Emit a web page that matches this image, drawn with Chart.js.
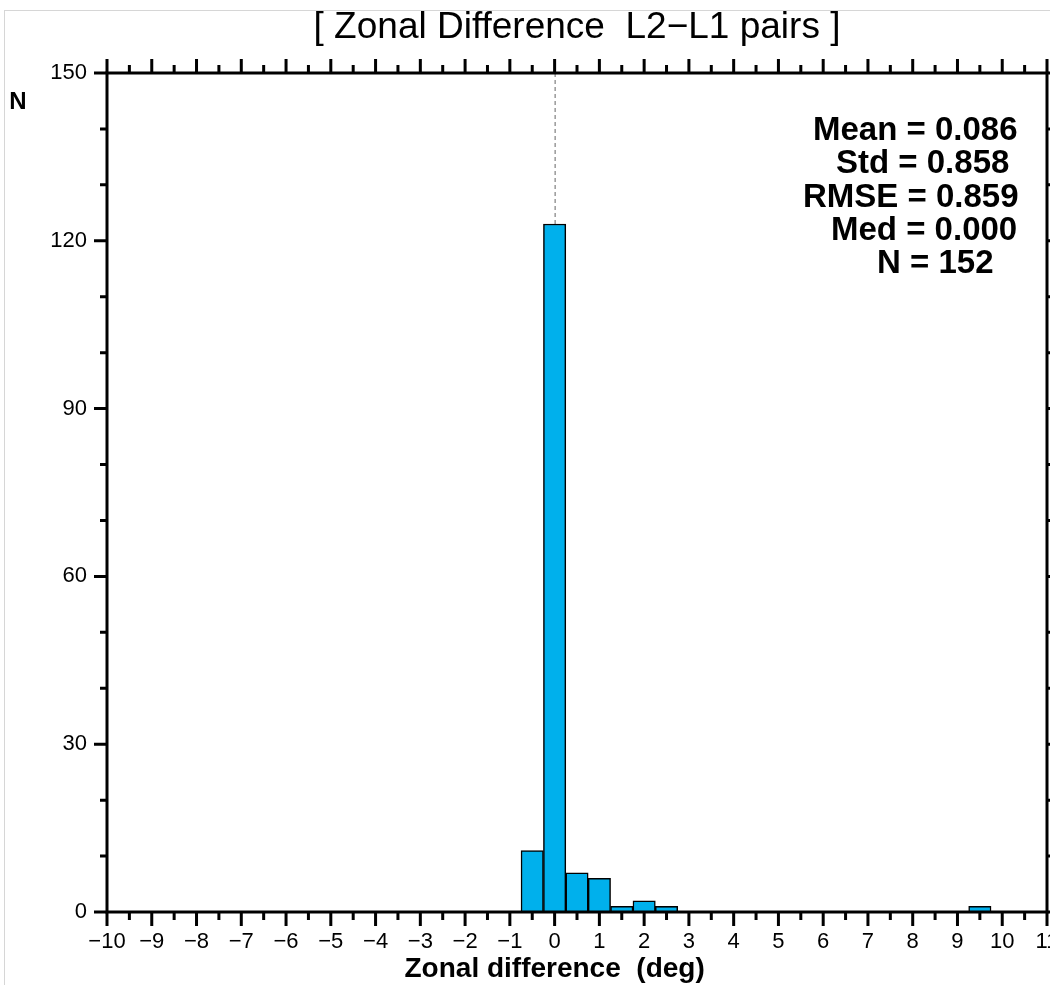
<!DOCTYPE html>
<html>
<head>
<meta charset="utf-8">
<script src="https://cdn.jsdelivr.net/npm/chart.js@4"></script>
<style>
  body { margin: 0; background: #fff; }
  #wrap { width: 1050px; height: 985px; position: relative; }
</style>
</head>
<body>
<div id="wrap"><canvas id="histChart"></canvas></div>
<script>
// histogram bins (centre of each 0.5 deg bin) and counts
const binCenters = [-0.5, 0, 0.5, 1, 1.5, 2, 2.5, 9.5];
const counts = [11, 123, 7, 6, 1, 2, 1, 1];
const xTicks = [-10, -9, -8, -7, -6, -5, -4, -3, -2, -1, 0, 1, 2, 3, 4, 5, 6, 7, 8, 9, 10, 11];
const yTicks = [0, 30, 60, 90, 120, 150];
const statLines = ["Mean = 0.086", "Std = 0.858", "RMSE = 0.859", "Med = 0.000", "N = 152"];

const FONT = "'Liberation Sans', Arial, Helvetica, sans-serif";

const frame = {
  id: "frame",
  beforeDatasetsDraw(chart) {
    const { ctx, chartArea: a, scales: { x } } = chart;
    const x0 = x.getPixelForValue(0);
    ctx.save();
    ctx.strokeStyle = "#666";
    ctx.lineWidth = 1;
    ctx.setLineDash([4, 3]);
    ctx.beginPath();
    ctx.moveTo(x0 + 0.5, a.top);
    ctx.lineTo(x0 + 0.5, a.bottom);
    ctx.stroke();
    ctx.restore();
  },
  afterDraw(chart) {
    const { ctx, chartArea: a, scales: { x, y } } = chart;
    ctx.save();

    // faint page border
    ctx.strokeStyle = "#d6d6d6";
    ctx.lineWidth = 1;
    ctx.strokeRect(4.5, 10.5, 1100, 1100);

    // plot frame
    ctx.strokeStyle = "#000";
    ctx.lineWidth = 3;
    ctx.strokeRect(a.left, a.top, a.right - a.left, a.bottom - a.top);

    // tick marks, outward on all four sides
    ctx.beginPath();
    for (let v = -10; v <= 11; v += 0.5) {
      const px = x.getPixelForValue(v);
      const len = Number.isInteger(v) ? 14 : 8;
      ctx.moveTo(px, a.bottom); ctx.lineTo(px, a.bottom + len);
      ctx.moveTo(px, a.top); ctx.lineTo(px, a.top - len);
    }
    for (let v = 0; v <= 150; v += 10) {
      const py = y.getPixelForValue(v);
      const len = v % 30 === 0 ? 13 : 7;
      ctx.moveTo(a.left, py); ctx.lineTo(a.left - len, py);
      ctx.moveTo(a.right, py); ctx.lineTo(a.right + len, py);
    }
    ctx.stroke();

    // title
    ctx.fillStyle = "#000";
    ctx.textAlign = "center";
    ctx.textBaseline = "middle";
    ctx.font = "37px " + FONT;
    ctx.fillText("[ Zonal Difference  L2\u2212L1 pairs ]", (a.left + a.right) / 2, 28);

    // axis titles
    ctx.font = "bold 28px " + FONT;
    ctx.fillText("Zonal difference  (deg)", x.getPixelForValue(0), 969);
    ctx.font = "bold 24px " + FONT;
    ctx.fillText("N", 18, 102);

    // statistics block
    ctx.font = "bold 33px " + FONT;
    ctx.textAlign = "left";
    const lefts = [813, 836, 803, 831, 877];
    statLines.forEach((s, i) => ctx.fillText(s, lefts[i], 131 + i * 33.3));

    ctx.restore();
  }
};

new Chart(document.getElementById("histChart"), {
  type: "bar",
  data: {
    datasets: [{
      data: binCenters.map((c, i) => ({ x: c, y: counts[i] })),
      backgroundColor: "#00b0ec",
      borderColor: "#000",
      borderWidth: 1.5,
      barPercentage: 1,
      categoryPercentage: 1
    }]
  },
  options: {
    responsive: true,
    maintainAspectRatio: false,
    animation: false,
    layout: { padding: { top: 73, right: 3, left: 0, bottom: 0 } },
    plugins: { legend: { display: false }, tooltip: { enabled: false } },
    scales: {
      x: {
        type: "linear",
        min: -10,
        max: 11,
        offset: false,
        grid: { display: false, drawTicks: false, offset: false },
        border: { display: false },
        afterBuildTicks: s => { s.ticks = xTicks.map(v => ({ value: v })); },
        ticks: {
          autoSkip: false,
          maxRotation: 0,
          padding: 17,
          color: "#000",
          font: { family: FONT, size: 22 },
          callback: v => String(v).replace("-", "\u2212")
        },
        afterFit: s => { s.height = 73; s.paddingLeft = 0; s.paddingRight = 0; }
      },
      y: {
        min: 0,
        max: 150,
        grid: { display: false, drawTicks: false },
        border: { display: false },
        afterBuildTicks: s => { s.ticks = yTicks.map(v => ({ value: v })); },
        ticks: {
          padding: 20,
          color: "#000",
          font: { family: FONT, size: 22 }
        },
        afterFit: s => { s.width = 107; s.paddingTop = 0; s.paddingBottom = 0; }
      }
    }
  },
  plugins: [frame]
});
</script>
</body>
</html>
